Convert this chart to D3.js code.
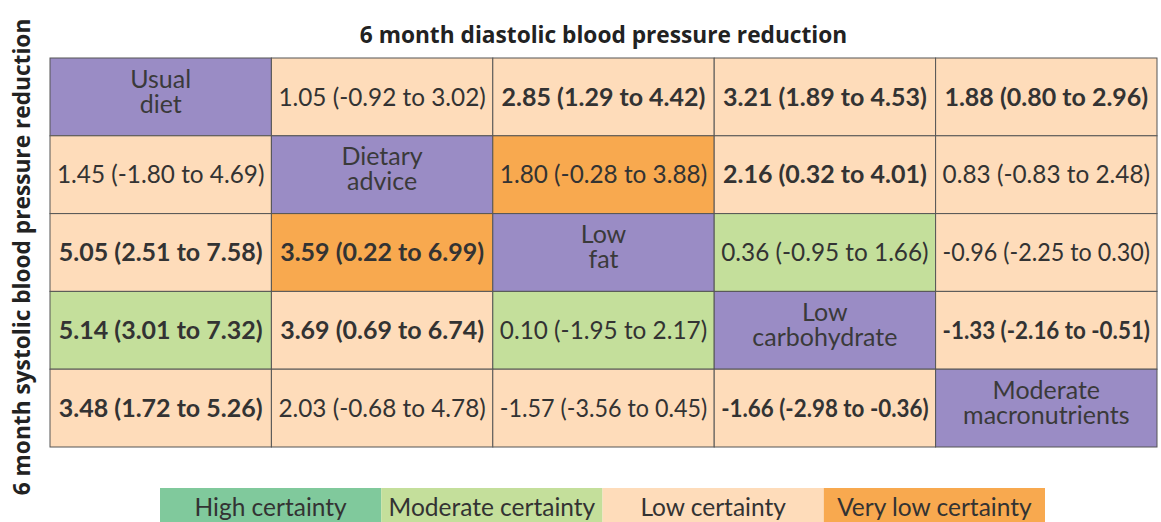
<!DOCTYPE html>
<html>
<head>
<meta charset="utf-8">
<script src="https://d3js.org/d3.v7.min.js"></script>
<style>
  body { margin: 0; background: #fff; }
  text { font-family: Lato, "Noto Sans", sans-serif; }
  .title { font-family: "Open Sans", "Noto Sans", sans-serif; }
</style>
</head>
<body>
<svg id="chart"></svg>
<script>
  // diets on the diagonal, two lines each
  var diets = [["Usual", "diet"], ["Dietary", "advice"], ["Low", "fat"], ["Low", "carbohydrate"], ["Moderate", "macronutrients"]];

  // upper triangle = diastolic, lower triangle = systolic (null on the diagonal)
  var est = [
    [null, 1.05, 2.85, 3.21, 1.88],
    [1.45, null, 1.80, 2.16, 0.83],
    [5.05, 3.59, null, 0.36, -0.96],
    [5.14, 3.69, 0.10, null, -1.33],
    [3.48, 2.03, -1.57, -1.66, null]
  ];
  var lower = [
    [null, -0.92, 1.29, 1.89, 0.80],
    [-1.80, null, -0.28, 0.32, -0.83],
    [2.51, 0.22, null, -0.95, -2.25],
    [3.01, 0.69, -1.95, null, -2.16],
    [1.72, -0.68, -3.56, -2.98, null]
  ];
  var upper = [
    [null, 3.02, 4.42, 4.53, 2.96],
    [4.69, null, 3.88, 4.01, 2.48],
    [7.58, 6.99, null, 1.66, 0.30],
    [7.32, 6.74, 2.17, null, -0.51],
    [5.26, 4.78, 0.45, -0.36, null]
  ];
  // certainty: 0 high, 1 moderate, 2 low, 3 very low
  var certainty = [
    [null, 2, 2, 2, 2],
    [2, null, 3, 2, 2],
    [2, 3, null, 1, 2],
    [1, 2, 1, null, 2],
    [2, 2, 2, 2, null]
  ];
  var levels = ["High certainty", "Moderate certainty", "Low certainty", "Very low certainty"];
  var levelColors = ["#80c99c", "#c4df9b", "#fedcba", "#f8a94f"];
  var dietColor = "#9a8cc5";

  var W = 1161, H = 522;
  var svg = d3.select("#chart").attr("width", W).attr("height", H);

  var x = d3.scaleBand().domain(d3.range(5)).range([50, 1157]);
  var y = d3.scaleBand().domain(d3.range(5)).range([58, 447]);
  // plain hyphen for negatives, like the original
  var f = d3.formatLocale({ decimal: ".", thousands: ",", grouping: [3], currency: ["", ""], minus: "-" }).format(".2f");

  var cells = [];
  for (var i = 0; i < 5; i++) {
    for (var j = 0; j < 5; j++) {
      cells.push({ r: i, c: j });
    }
  }

  var g = svg.selectAll("g.cell").data(cells).enter().append("g")
    .attr("class", "cell")
    .attr("transform", function(d) { return "translate(" + x(d.c) + "," + y(d.r) + ")"; });

  g.append("rect")
    .attr("width", x.bandwidth())
    .attr("height", y.bandwidth())
    .attr("fill", function(d) { return d.r == d.c ? dietColor : levelColors[certainty[d.r][d.c]]; })
    .attr("stroke", "#555")
    .attr("stroke-width", 1);

  // estimate text
  var maxW = x.bandwidth() - 14;
  g.filter(function(d) { return d.r != d.c; })
    .append("text")
    .attr("x", x.bandwidth() / 2)
    .attr("y", y.bandwidth() / 2)
    .attr("dy", "0.35em")
    .attr("text-anchor", "middle")
    .attr("font-size", 25)
    .attr("fill", "#333")
    .attr("font-weight", function(d) {
      // bold when the interval excludes zero
      var lo = lower[d.r][d.c], hi = upper[d.r][d.c];
      return (lo > 0 || hi < 0) ? "bold" : "normal";
    })
    .text(function(d) {
      return f(est[d.r][d.c]) + " (" + f(lower[d.r][d.c]) + " to " + f(upper[d.r][d.c]) + ")";
    })
    .each(function() {
      // squeeze the few that would run over the cell edge
      if (this.getComputedTextLength() > maxW) {
        d3.select(this).attr("textLength", maxW).attr("lengthAdjust", "spacingAndGlyphs");
      }
    });

  // diet names on the diagonal
  g.filter(function(d) { return d.r == d.c; })
    .selectAll("text")
    .data(function(d) { return diets[d.r].map(function(s, k) { return { s: s, k: k }; }); })
    .enter().append("text")
    .attr("x", x.bandwidth() / 2)
    .attr("y", function(d) { return y.bandwidth() / 2 + (d.k == 0 ? -18 : 7); })
    .attr("dy", "0.35em")
    .attr("text-anchor", "middle")
    .attr("font-size", 25)
    .attr("fill", "#3a3a3a")
    .text(function(d) { return d.s; });

  // titles
  svg.append("text")
    .attr("class", "title")
    .attr("x", (50 + 1157) / 2)
    .attr("y", 35)
    .attr("dy", "0.35em")
    .attr("text-anchor", "middle")
    .attr("font-size", 22.7)
    .attr("font-weight", "bold")
    .attr("fill", "#222")
    .text("6 month diastolic blood pressure reduction");

  svg.append("text")
    .attr("class", "title")
    .attr("transform", "translate(22,257) rotate(-90)")
    .attr("dy", "0.35em")
    .attr("text-anchor", "middle")
    .attr("font-size", 22.7)
    .attr("font-weight", "bold")
    .attr("fill", "#222")
    .text("6 month systolic blood pressure reduction");

  // legend
  var lx = d3.scaleBand().domain(d3.range(levels.length)).range([160, 1045]);
  var lg = svg.selectAll("g.leg").data(levels).enter().append("g")
    .attr("class", "leg")
    .attr("transform", function(d, i) { return "translate(" + lx(i) + ",488)"; });
  lg.append("rect")
    .attr("width", lx.bandwidth())
    .attr("height", 40)
    .attr("fill", function(d, i) { return levelColors[i]; });
  lg.append("text")
    .attr("x", lx.bandwidth() / 2)
    .attr("y", 19)
    .attr("dy", "0.35em")
    .attr("text-anchor", "middle")
    .attr("font-size", 24.5)
    .attr("fill", "#333")
    .text(function(d) { return d; });
</script>
</body>
</html>
